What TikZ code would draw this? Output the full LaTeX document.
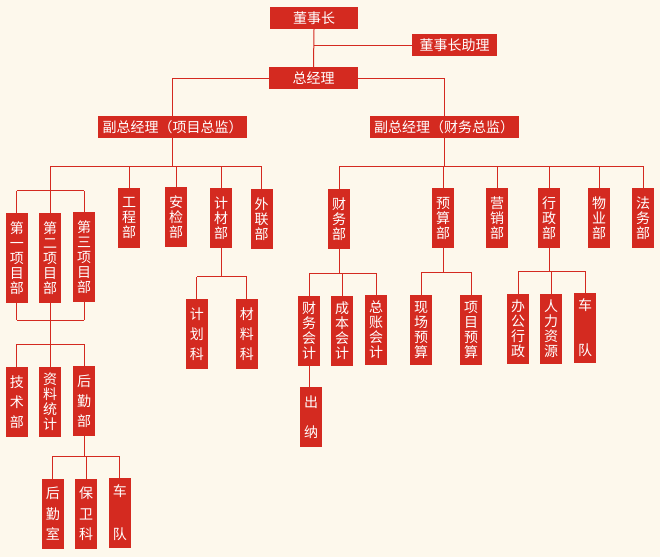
\documentclass[tikz,border=0pt]{standalone}
\usepackage{fontspec}
\newfontfamily\cjk{Noto Sans CJK SC}
\definecolor{bgc}{HTML}{FDF8EC}
\definecolor{orgred}{HTML}{D42A20}
\begin{document}
\begin{tikzpicture}[x=1pt,y=-1pt,
  box/.style={fill=orgred, text=white, inner sep=0pt, align=center},
  hbox/.style={box, minimum height=22pt, font=\cjk\fontsize{14}{15}\selectfont},
  vbox/.style={box, minimum width=22pt, minimum height=#1, font=\cjk\fontsize{14}{15}\selectfont},
  pitch/.style={font=\cjk\fontsize{14}{#1}\selectfont},
  wire/.style={draw=orgred, line width=1pt}]
\fill[bgc] (0,0) rectangle (660,557);
\useasboundingbox (0,0) rectangle (660,557);

% top
\node[hbox, minimum width=88pt] (dsz) at (314,18) {董事长};
\node[hbox, minimum width=85pt] (zl) at (454.5,45) {董事长助理};
\node[hbox, minimum width=89pt] (zjl) at (313.5,78) {总经理};
\node[hbox, minimum width=149pt] (fz1) at (172.5,127) {副总经理（项目总监）};
\node[hbox, minimum width=149pt] (fz2) at (444,127) {副总经理（财务总监）};

% left departments
\node[vbox=60pt] (gc) at (129,218) {工\\程\\部};
\node[vbox=60pt] (aj) at (176,217) {安\\检\\部};
\node[vbox=60pt] (jc) at (221,218) {计\\材\\部};
\node[vbox=60pt] (wl) at (261.7,219) {外\\联\\部};
\node[vbox=90pt] (p1) at (16.8,257.7) {第\\一\\项\\目\\部};
\node[vbox=90pt] (p2) at (50.2,257.7) {第\\二\\项\\目\\部};
\node[vbox=90pt] (p3) at (84,256.7) {第\\三\\项\\目\\部};
\node[vbox=70pt, pitch=20] (js) at (16.8,401.7) {技\\术\\部};
\node[vbox=70pt] (zltj) at (50.2,401.7) {资\\料\\统\\计};
\node[vbox=70pt, pitch=20] (hq) at (84,401) {后\\勤\\部};
\node[vbox=70pt, pitch=20.5] (hqs) at (52.8,514) {后\\勤\\室};
\node[vbox=70pt, pitch=20.5] (bwk) at (86,514) {保\\卫\\科};
\node[vbox=70pt, pitch=43] (cd1) at (119.8,512.7) {车\\队};
\node[vbox=70pt, pitch=20] (jhk) at (196.8,333.8) {计\\划\\科};
\node[vbox=70pt, pitch=20] (clk) at (246.8,333.8) {材\\料\\科};

% right departments
\node[vbox=60pt] (cw) at (339.2,218.7) {财\\务\\部};
\node[vbox=60pt] (ys) at (443,218) {预\\算\\部};
\node[vbox=60pt] (yx) at (497,218) {营\\销\\部};
\node[vbox=60pt] (xz) at (549,218) {行\\政\\部};
\node[vbox=60pt] (wy) at (599.2,218) {物\\业\\部};
\node[vbox=60pt] (fw) at (643,218) {法\\务\\部};
\node[vbox=70pt] (cwkj) at (309.2,330.9) {财\\务\\会\\计};
\node[vbox=70pt] (cbkj) at (342,330.9) {成\\本\\会\\计};
\node[vbox=70pt] (zzkj) at (376,329.9) {总\\账\\会\\计};
\node[vbox=60pt, pitch=30] (cn) at (311,416.9) {出\\纳};
\node[vbox=70pt] (xcys) at (421,329.9) {现\\场\\预\\算};
\node[vbox=70pt] (xmys) at (471,329.9) {项\\目\\预\\算};
\node[vbox=70pt] (bgxz) at (518,328.9) {办\\公\\行\\政};
\node[vbox=70pt] (rlzy) at (551,328.9) {人\\力\\资\\源};
\node[vbox=70pt, pitch=45] (cd2) at (585,327.9) {车\\队};

% bar levels
\coordinate (b1) at (0,166);
\coordinate (b2) at (0,190.7);
\coordinate (b3) at (0,320);
\coordinate (b4) at (0,344.3);
\coordinate (b5) at (0,456);
\coordinate (b6) at (0,276.7);
\coordinate (b8) at (0,273.3);
\coordinate (b9) at (0,272.3);
\coordinate (b10) at (0,271.3);

% top connectors
\draw[wire] (dsz.south) -- (zjl.north);
\draw[wire] (dsz.south |- zl.west) -- (zl.west);
\draw[wire] (zjl.west) -| (fz1.north);
\draw[wire] (zjl.east) -| (fz2.north);

% left tree
\draw[wire] (fz1.south) -- (fz1.south |- b1);
\draw[wire] (p2 |- b1) -- (wl |- b1);
\foreach \n in {gc,aj,jc,wl} \draw[wire] (\n.north) -- (\n |- b1);
\draw[wire] (p2 |- b1) -- (p2 |- b2);
\draw[wire] (p1 |- b2) -- (p3 |- b2);
\foreach \n in {p1,p2,p3} \draw[wire] (\n.north) -- (\n |- b2);
\foreach \n in {p1,p2,p3} \draw[wire] (\n.south) -- (\n |- b3);
\draw[wire] (p1 |- b3) -- (p3 |- b3);
\draw[wire] (p2 |- b3) -- (p2 |- b4);
\draw[wire] (js |- b4) -- (hq |- b4);
\foreach \n in {js,zltj,hq} \draw[wire] (\n.north) -- (\n |- b4);
\draw[wire] (hq.south) -- (hq |- b5);
\draw[wire] (hqs |- b5) -- (cd1 |- b5);
\foreach \n in {hqs,bwk,cd1} \draw[wire] (\n.north) -- (\n |- b5);
\draw[wire] (jc.south) -- (jc |- b6);
\draw[wire] (jhk |- b6) -- (clk |- b6);
\foreach \n in {jhk,clk} \draw[wire] (\n.north) -- (\n |- b6);

% right tree
\draw[wire] (fz2.south) -- (fz2.south |- b1);
\draw[wire] (cw |- b1) -- (fw |- b1);
\foreach \n in {cw,ys,yx,xz,wy,fw} \draw[wire] (\n.north) -- (\n |- b1);
\draw[wire] (cw.south) -- (cw |- b8);
\draw[wire] (cwkj |- b8) -- (zzkj |- b8);
\foreach \n in {cwkj,cbkj,zzkj} \draw[wire] (\n.north) -- (\n |- b8);
\draw[wire] (cwkj.south) -- (cwkj.south |- cn.north);
\draw[wire] (ys.south) -- (ys |- b9);
\draw[wire] (xcys |- b9) -- (xmys |- b9);
\foreach \n in {xcys,xmys} \draw[wire] (\n.north) -- (\n |- b9);
\draw[wire] (xz.south) -- (xz |- b10);
\draw[wire] (bgxz |- b10) -- (cd2 |- b10);
\foreach \n in {bgxz,rlzy,cd2} \draw[wire] (\n.north) -- (\n |- b10);
\end{tikzpicture}
\end{document}
